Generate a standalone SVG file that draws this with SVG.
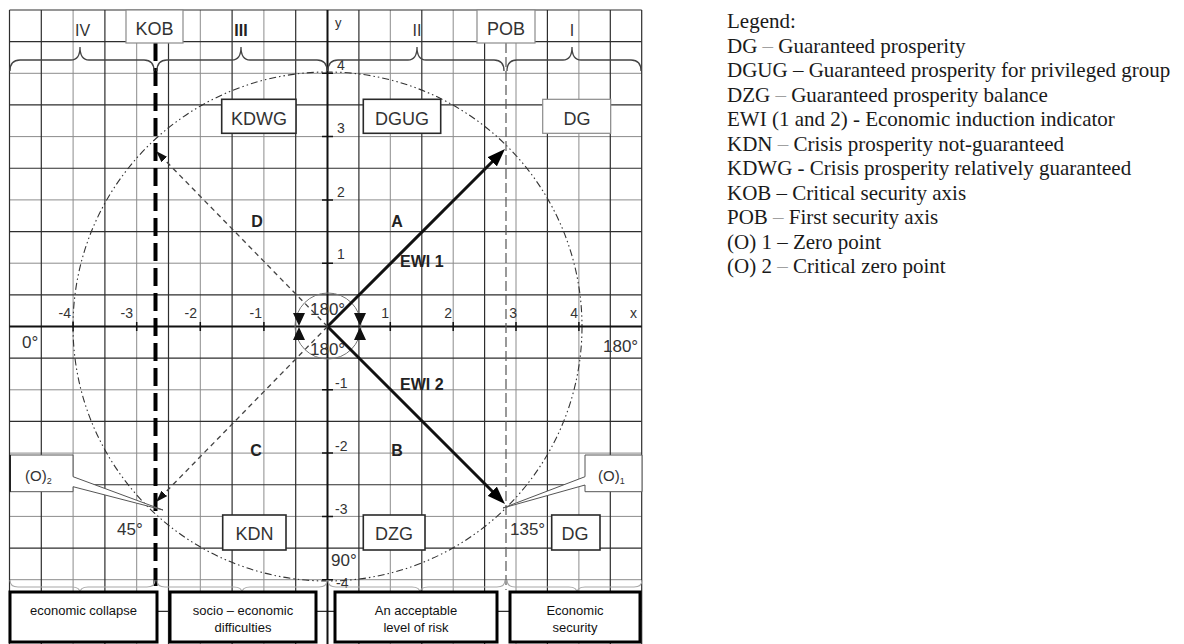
<svg xmlns="http://www.w3.org/2000/svg" width="1184" height="644" viewBox="0 0 1184 644">
<style>
.gd{stroke:#2e2e2e;stroke-width:1.2;fill:none}
.gl{stroke:#8c8c8c;stroke-width:1;fill:none}
.ax{stroke:#111;stroke-width:2;fill:none}
.tk{stroke:#111;stroke-width:1.5;fill:none}
.t{font-family:"Liberation Sans",Arial,sans-serif;fill:#333}
.n14{font-size:14px}
.n17{font-size:17px}
.lb{font-family:"Liberation Sans",Arial,sans-serif;font-size:18px;fill:#333;text-anchor:middle}
.bx{fill:#fff;stroke:#2a2a2a;stroke-width:1.6}
.bxl{fill:#fff;stroke:#8a8a8a;stroke-width:1.2}
.br{stroke:#444;stroke-width:1.3;fill:none}
.brl{stroke:#a8a8a8;stroke-width:1.1;fill:none}
.bot{fill:#fff;stroke:#000;stroke-width:3}
.bt{font-family:"Liberation Sans",Arial,sans-serif;font-size:13px;fill:#111;text-anchor:middle}
.bold{font-weight:bold;fill:#222}
.lg{font-family:"Liberation Serif","Times New Roman",serif;font-size:21px;fill:#1a1a1a}
.lt{fill:#a0a0a0}
</style>
<defs>
<marker id="ah" markerWidth="18" markerHeight="13" refX="6" refY="6.5" orient="auto" markerUnits="userSpaceOnUse"><path d="M0,0 L18,6.5 L0,13 Z" fill="#000"/></marker>
<marker id="ahs" markerWidth="12" markerHeight="8" refX="4" refY="4" orient="auto" markerUnits="userSpaceOnUse"><path d="M0,0 L12,4 L0,8 Z" fill="#111"/></marker>
</defs>
<rect width="1184" height="644" fill="#fff"/>

<g id="grid">
<path class="gl" d="M73.1,10V644M136.7,10V644M200.3,10V644M263.9,10V644M390.3,10V644M453.2,10V644M516,10V644M578.9,10V644"/>
<path class="gl" d="M9.5,73.3H641.7M9.5,136.6H641.7M9.5,199.9H641.7M9.5,263.2H641.7M9.5,389.8H641.7M9.5,453.1H641.7M9.5,516.4H641.7M9.5,579.7H641.7"/>
<path class="gd" d="M9.5,10V644M41.3,10V644M104.9,10V644M168.5,10V644M232.1,10V644M295.7,10V644M358.9,10V644M421.8,10V644M484.6,10V644M547.4,10V644M610.3,10V644M641.7,10V644"/>
<path class="gd" d="M9.5,10H641.7M9.5,41.65H641.7M9.5,104.95H641.7M9.5,168.25H641.7M9.5,231.55H641.7M9.5,294.85H641.7M9.5,358.15H641.7M9.5,421.45H641.7M9.5,484.75H641.7M9.5,548.05H641.7M9.5,611.35H641.7"/>
</g>

<g id="circle">
<circle cx="327.5" cy="326.5" r="254.5" fill="none" stroke="#333" stroke-width="1.1" stroke-dasharray="7 3 1.5 3 1.5 3"/>
</g>

<g id="axes">
<path class="ax" d="M9.5,326.5H641.7M327.5,10V644"/>
<path class="tk" d="M73.1,322V331M136.7,322V331M200.3,322V331M263.9,322V331M390.3,322V331M453.2,322V331M516,322V331M578.9,322V331"/>
<path class="tk" d="M322,73.3H333M322,136.6H333M322,199.9H333M322,263.2H333M322,389.8H333M322,453.1H333M322,516.4H333M322,579.7H333"/>
<g class="t n14" text-anchor="end">
<text x="71" y="318">-4</text><text x="133" y="318">-3</text><text x="197" y="318">-2</text><text x="262" y="318">-1</text>
<text x="389" y="318">1</text><text x="452" y="318">2</text><text x="517" y="318">3</text><text x="578" y="318">4</text>
</g>
<g class="t n14">
<text x="337" y="70">4</text><text x="337" y="133">3</text><text x="337" y="197">2</text><text x="337" y="259">1</text>
<text x="335" y="388">-1</text><text x="335" y="451">-2</text><text x="335" y="514">-3</text><text x="336" y="588">-4</text>
<text x="630" y="318">x</text><text x="335" y="27" font-size="13">y</text>
</g>
<g class="t n17">
<text x="22" y="348">0°</text>
<text x="603" y="352">180°</text>
<text x="331" y="566">90°</text>
<text x="117" y="535">45°</text>
<text x="510" y="535">135°</text>
</g>
</g>

<g id="axis-lines">
<line x1="155.5" y1="43" x2="155.5" y2="590" stroke="#000" stroke-width="4" stroke-dasharray="18 7"/>
<line x1="506" y1="43" x2="506" y2="590" stroke="#555" stroke-width="1.2" stroke-dasharray="10 4"/>
</g>

<g id="braces">
<path class="br" d="M10,71 Q10,60 20,60 H71 Q80,60 80,47 Q80,60 89,60 H144 Q154,60 154,71"/>
<path class="br" d="M157,71 Q157,60 167,60 H232 Q241,60 241,47 Q241,60 250,60 H317 Q327,60 327,71"/>
<path class="br" d="M328,71 Q328,60 338,60 H408 Q417,60 417,47 Q417,60 426,60 H494 Q504,60 504,71"/>
<path class="br" d="M507,71 Q507,60 517,60 H563 Q572,60 572,47 Q572,60 581,60 H631 Q641,60 641,71"/>
<path class="brl" d="M10,580 Q10,587 18,587 H72 Q80,587 80,593 Q80,587 88,587 H147 Q155,587 155,580"/>
<path class="brl" d="M157,580 Q157,587 165,587 H234 Q242,587 242,593 Q242,587 250,587 H319 Q327,587 327,580"/>
<path class="brl" d="M328,580 Q328,587 336,587 H412 Q420,587 420,593 Q420,587 428,587 H497 Q505,587 505,580"/>
<path class="brl" d="M507,580 Q507,587 515,587 H569 Q577,587 577,593 Q577,587 585,587 H634 Q642,587 642,580"/>
</g>

<g id="top-labels">
<text class="t" x="82.5" y="36" font-size="16" text-anchor="middle">IV</text>
<text class="t bold" x="241" y="36" font-size="16" text-anchor="middle">III</text>
<text class="t" x="417" y="36" font-size="16" text-anchor="middle">II</text>
<text class="t" x="572" y="36" font-size="16" text-anchor="middle">I</text>
</g>
<g id="KOB"><rect class="bxl" x="126" y="10" width="57" height="33"/><text class="lb" x="154.5" y="35" font-size="17">KOB</text></g>
<g id="POB"><rect class="bxl" x="477" y="10" width="58" height="33"/><text class="lb" x="506" y="35" font-size="17">POB</text></g>

<g id="center">
<circle cx="328" cy="326" r="33" fill="none" stroke="#777" stroke-width="1"/>
<text class="t n17" x="310" y="315">180°</text>
<text class="t n17" x="310" y="355">180°</text>
<path d="M293,313H305L299,326ZM293,340H305L299,327ZM354,313H366L360,326ZM354,340H366L360,327Z" fill="#111"/>
</g>

<g id="connectors">
<line x1="327.5" y1="326.5" x2="496.5" y2="157.5" stroke="#111" stroke-width="3" marker-end="url(#ah)"/>
<line x1="327.5" y1="326.5" x2="496.5" y2="495.5" stroke="#111" stroke-width="3" marker-end="url(#ah)"/>
<line x1="327.5" y1="326.5" x2="161.6" y2="156.7" stroke="#444" stroke-width="1.3" stroke-dasharray="5 4" marker-end="url(#ahs)"/>
<line x1="327.5" y1="326.5" x2="161.6" y2="496.3" stroke="#444" stroke-width="1.3" stroke-dasharray="5 4" marker-end="url(#ahs)"/>
</g>

<g id="quadrant-labels">
<text class="t bold" x="257" y="227" font-size="16" text-anchor="middle">D</text>
<text class="t bold" x="397" y="227" font-size="16" text-anchor="middle">A</text>
<text class="t bold" x="256" y="456" font-size="16" text-anchor="middle">C</text>
<text class="t bold" x="397" y="456" font-size="16" text-anchor="middle">B</text>
<text class="t bold" x="400" y="267" font-size="16">EWI 1</text>
<text class="t bold" x="400" y="390" font-size="16">EWI 2</text>
</g>

<g id="KDWG"><rect class="bx" x="221.7" y="99.3" width="74.3" height="34" stroke-width="2.4"/><text class="lb" x="259" y="125">KDWG</text></g>
<g id="DGUG"><rect class="bx" x="363.3" y="99.3" width="77.4" height="34" stroke-width="2.4"/><text class="lb" x="402" y="125">DGUG</text></g>
<g id="DG-top"><rect class="bxl" x="542.7" y="99.3" width="68" height="34"/><text class="lb" x="577" y="125">DG</text></g>
<g id="KDN"><rect class="bx" x="222.7" y="515" width="63.3" height="35"/><text class="lb" x="254.5" y="540">KDN</text></g>
<g id="DZG"><rect class="bx" x="363.3" y="515" width="61.7" height="35"/><text class="lb" x="394" y="540">DZG</text></g>
<g id="DG-bottom"><rect class="bx" x="551.7" y="515" width="48.3" height="35"/><text class="lb" x="575" y="540">DG</text></g>

<g id="O2"><path d="M10,455H73V476.7L163,510L73,486.7V491.7H10Z" fill="#fff" stroke="#555" stroke-width="1"/><line x1="10" y1="455" x2="10" y2="491.7" stroke="#222" stroke-width="2"/><text class="t" x="25" y="481" font-size="15">(O)<tspan font-size="9" dy="3">2</tspan></text></g>
<g id="O1"><path d="M642,455H585V476.7L503,508L585,485V491.7H642Z" fill="#fff" stroke="#555" stroke-width="1"/><text class="t" x="598" y="481" font-size="15">(O)<tspan font-size="9" dy="3">1</tspan></text></g>

<g id="box-collapse"><rect class="bot" x="10" y="592" width="147" height="50"/><text class="bt" x="83.5" y="615">economic collapse</text></g>
<g id="box-difficulties"><rect class="bot" x="170" y="592" width="146" height="50"/><text class="bt" x="243" y="615">socio – economic</text><text class="bt" x="243" y="632">difficulties</text></g>
<g id="box-risk"><rect class="bot" x="335" y="592" width="162" height="50"/><text class="bt" x="416" y="615">An acceptable</text><text class="bt" x="416" y="632">level of risk</text></g>
<g id="box-security"><rect class="bot" x="510" y="592" width="130" height="50"/><text class="bt" x="575" y="615">Economic</text><text class="bt" x="575" y="632">security</text></g>

<g id="legend" class="lg">
<text x="727" y="28.3">Legend:</text>
<text x="727" y="52.8">DG <tspan class="lt">–</tspan> Guaranteed prosperity</text>
<text x="727" y="77.3">DGUG – Guaranteed prosperity for privileged group</text>
<text x="727" y="101.8">DZG <tspan class="lt">–</tspan> Guaranteed prosperity balance</text>
<text x="727" y="126.3">EWI (1 and 2) - Economic induction indicator</text>
<text x="727" y="150.8">KDN <tspan class="lt">–</tspan> Crisis prosperity not-guaranteed</text>
<text x="727" y="175.3">KDWG - Crisis prosperity relatively guaranteed</text>
<text x="727" y="199.8">KOB – Critical security axis</text>
<text x="727" y="224.3">POB <tspan class="lt">–</tspan> First security axis</text>
<text x="727" y="248.8">(O) 1 – Zero point</text>
<text x="727" y="273.3">(O) 2 <tspan class="lt">–</tspan> Critical zero point</text>
</g>
</svg>
